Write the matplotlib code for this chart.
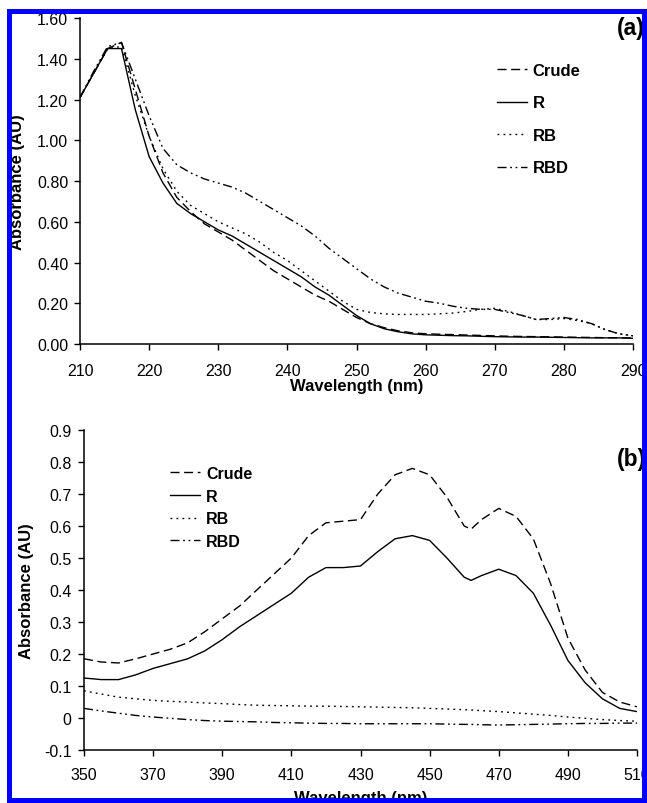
import matplotlib
matplotlib.use("Agg")
import matplotlib.pyplot as plt
from matplotlib.patches import Rectangle
from matplotlib.ticker import FuncFormatter

plt.rcParams['font.family'] = ['Liberation Sans', 'DejaVu Sans']
plt.rcParams['axes.unicode_minus'] = False

### data, panel (a): UV region ###
wl_a = [210, 212, 214, 216, 218, 220, 222, 224, 226, 228, 230, 232, 234, 236, 238,
        240, 242, 244, 246, 248, 250, 252, 254, 256, 258, 260, 262, 264, 266, 268,
        270, 272, 274, 276, 278, 280, 282, 284, 286, 288, 290]
crude_a = [1.21, 1.33, 1.45, 1.48, 1.25, 1.02, 0.84, 0.72, 0.65, 0.59, 0.55, 0.51, 0.46, 0.41, 0.36,
           0.32, 0.28, 0.24, 0.21, 0.17, 0.13, 0.10, 0.08, 0.065, 0.055, 0.05, 0.048, 0.046, 0.044, 0.042,
           0.04, 0.038, 0.037, 0.036, 0.035, 0.034, 0.033, 0.032, 0.031, 0.03, 0.03]
r_a = [1.21, 1.33, 1.45, 1.45, 1.15, 0.92, 0.79, 0.69, 0.64, 0.60, 0.56, 0.53, 0.49, 0.45, 0.41,
       0.37, 0.33, 0.28, 0.24, 0.19, 0.14, 0.10, 0.075, 0.06, 0.05, 0.045, 0.043, 0.041, 0.04, 0.038,
       0.036, 0.035, 0.034, 0.034, 0.033, 0.032, 0.031, 0.03, 0.03, 0.03, 0.028]
rb_a = [1.21, 1.33, 1.45, 1.46, 1.22, 1.02, 0.86, 0.75, 0.68, 0.64, 0.60, 0.57, 0.54, 0.50, 0.45,
        0.41, 0.36, 0.31, 0.26, 0.21, 0.17, 0.155, 0.148, 0.145, 0.145, 0.145, 0.148, 0.152, 0.16, 0.17,
        0.175, 0.16, 0.14, 0.12, 0.12, 0.125, 0.115, 0.10, 0.07, 0.05, 0.04]
rbd_a = [1.21, 1.34, 1.46, 1.48, 1.30, 1.12, 0.96, 0.88, 0.84, 0.81, 0.79, 0.77, 0.74, 0.70, 0.66,
         0.62, 0.58, 0.53, 0.47, 0.42, 0.37, 0.32, 0.28, 0.25, 0.23, 0.21, 0.20, 0.185, 0.175, 0.17,
         0.17, 0.155, 0.14, 0.12, 0.125, 0.13, 0.12, 0.10, 0.07, 0.05, 0.04]

### data, panel (b): visible region ###
wl_b = [350, 355, 360, 365, 370, 375, 380, 385, 390, 395, 400, 405, 410, 415, 420,
        425, 430, 435, 440, 445, 450, 455, 460, 462, 465, 470, 475, 480, 485, 490,
        495, 500, 505, 510]
crude_b = [0.185, 0.175, 0.172, 0.185, 0.20, 0.215, 0.235, 0.27, 0.31, 0.35, 0.40, 0.45, 0.50, 0.57, 0.61,
           0.615, 0.62, 0.70, 0.76, 0.78, 0.76, 0.69, 0.60, 0.59, 0.62, 0.655, 0.63, 0.56, 0.42, 0.25,
           0.15, 0.08, 0.05, 0.035]
r_b = [0.125, 0.12, 0.12, 0.135, 0.155, 0.17, 0.185, 0.21, 0.245, 0.285, 0.32, 0.355, 0.39, 0.44, 0.47,
       0.47, 0.475, 0.52, 0.56, 0.57, 0.555, 0.50, 0.44, 0.43, 0.445, 0.465, 0.445, 0.39, 0.29, 0.18,
       0.11, 0.06, 0.03, 0.02]
rb_b = [0.085, 0.075, 0.065, 0.06, 0.055, 0.052, 0.05, 0.047, 0.045, 0.042, 0.04, 0.039, 0.038, 0.037, 0.037,
        0.036, 0.035, 0.034, 0.033, 0.032, 0.03, 0.028, 0.026, 0.025, 0.023, 0.02, 0.016, 0.012, 0.008, 0.003,
        -0.001, -0.005, -0.008, -0.01]
rbd_b = [0.03, 0.022, 0.015, 0.008, 0.003, -0.001, -0.005, -0.008, -0.01, -0.011, -0.012, -0.014, -0.015, -0.016, -0.017,
         -0.017, -0.018, -0.018, -0.018, -0.018, -0.018, -0.019, -0.02, -0.02, -0.021, -0.022, -0.021, -0.02, -0.019, -0.018,
         -0.017, -0.017, -0.016, -0.016]

labels = ["Crude", "R", "RB", "RBD"]
styles = [(0, (6.5, 3.3)), "-", (0, (1.3, 3.0)), (0, (6.5, 2.6, 1.3, 2.6, 1.3, 2.6))]

W, H = 647, 804
fig = plt.figure(figsize=(W / 100, H / 100), dpi=100)


def style_axes(ax, xpad, ypad):
    for s in ["top", "right"]:
        ax.spines[s].set_visible(False)
    for s in ["left", "bottom"]:
        ax.spines[s].set_linewidth(1.1)
    ax.tick_params(direction="out", length=4.5, width=1.0, labelsize=11.5)
    ax.tick_params(axis="x", pad=xpad)
    ax.tick_params(axis="y", pad=ypad)


# panel (a)
ax1 = fig.add_axes([80 / W, 1 - 345 / H, 553 / W, 326 / H])
for y, lab, ls in zip([crude_a, r_a, rb_a, rbd_a], labels, styles):
    ax1.plot(wl_a, y, color="black", linestyle=ls, linewidth=1.0, label=lab)
ax1.set_xlim(210, 290)
ax1.set_ylim(0, 1.6)
ax1.set_xticks(range(210, 291, 10))
ax1.set_yticks([0, 0.2, 0.4, 0.6, 0.8, 1.0, 1.2, 1.4, 1.6])
ax1.yaxis.set_major_formatter(FuncFormatter(lambda v, p: "%.2f" % v))
style_axes(ax1, 9, 4)
ax1.set_xlabel("Wavelength (nm)", fontsize=12, fontweight="bold")
ax1.set_ylabel("Absorbance (AU)", fontsize=12, fontweight="bold")
ax1.xaxis.set_label_coords(0.5, -(379 - 345) / 326)
ax1.yaxis.set_label_coords((25 - 80) / 553, 0.5)
ax1.legend(loc="upper left", bbox_to_anchor=(0.754, 0.862), frameon=False,
           borderaxespad=0, borderpad=0, handlelength=1.8, handletextpad=0.35,
           labelspacing=1.05, prop={"weight": "bold", "size": 12})

# panel (b)
ax2 = fig.add_axes([84 / W, 1 - 751 / H, 553 / W, 320 / H])
for y, lab, ls in zip([crude_b, r_b, rb_b, rbd_b], labels, styles):
    ax2.plot(wl_b, y, color="black", linestyle=ls, linewidth=1.0, label=lab)
ax2.set_xlim(350, 510)
ax2.set_ylim(-0.1, 0.9)
ax2.set_xticks(range(350, 511, 20))
ax2.set_yticks([-0.1, 0, 0.1, 0.2, 0.3, 0.4, 0.5, 0.6, 0.7, 0.8, 0.9])
ax2.yaxis.set_major_formatter(FuncFormatter(lambda v, p: "0" if abs(v) < 1e-9 else "%.1f" % v))
style_axes(ax2, 8, 4.5)
ax2.set_xlabel("Wavelength (nm)", fontsize=12, fontweight="bold")
ax2.set_ylabel("Absorbance (AU)", fontsize=12, fontweight="bold")
ax2.xaxis.set_label_coords(0.5, -(791 - 751) / 320)
ax2.yaxis.set_label_coords((34 - 84) / 553, 0.5)
ax2.legend(loc="upper left", bbox_to_anchor=(0.1555, 0.8875), frameon=False,
           borderaxespad=0, borderpad=0, handlelength=1.9, handletextpad=0.35,
           labelspacing=0.48, prop={"weight": "bold", "size": 11.5})

# panel letters
fig.text(617 / W, 1 - 29 / H, "(a)", fontsize=16.5, fontweight="bold", va="center", ha="left")
fig.text(617 / W, 1 - 460 / H, "(b)", fontsize=16.5, fontweight="bold", va="center", ha="left")

# white margin and blue frame around the whole figure
def band(x0, y0, x1, y1, color):
    fig.add_artist(Rectangle((x0 / W, 1 - y1 / H), (x1 - x0) / W, (y1 - y0) / H,
                             transform=fig.transFigure, facecolor=color,
                             edgecolor="none", zorder=20))

band(0, 0, W, 10, "white")
band(0, 0, 7, H, "white")
band(7, 10, W, 15, "#0000ff")
band(7, 10, 12, H, "#0000ff")
band(642, 10, W, H, "#0000ff")
band(7, 799, W, H, "#0000ff")

fig.savefig("out.png", dpi=100)
